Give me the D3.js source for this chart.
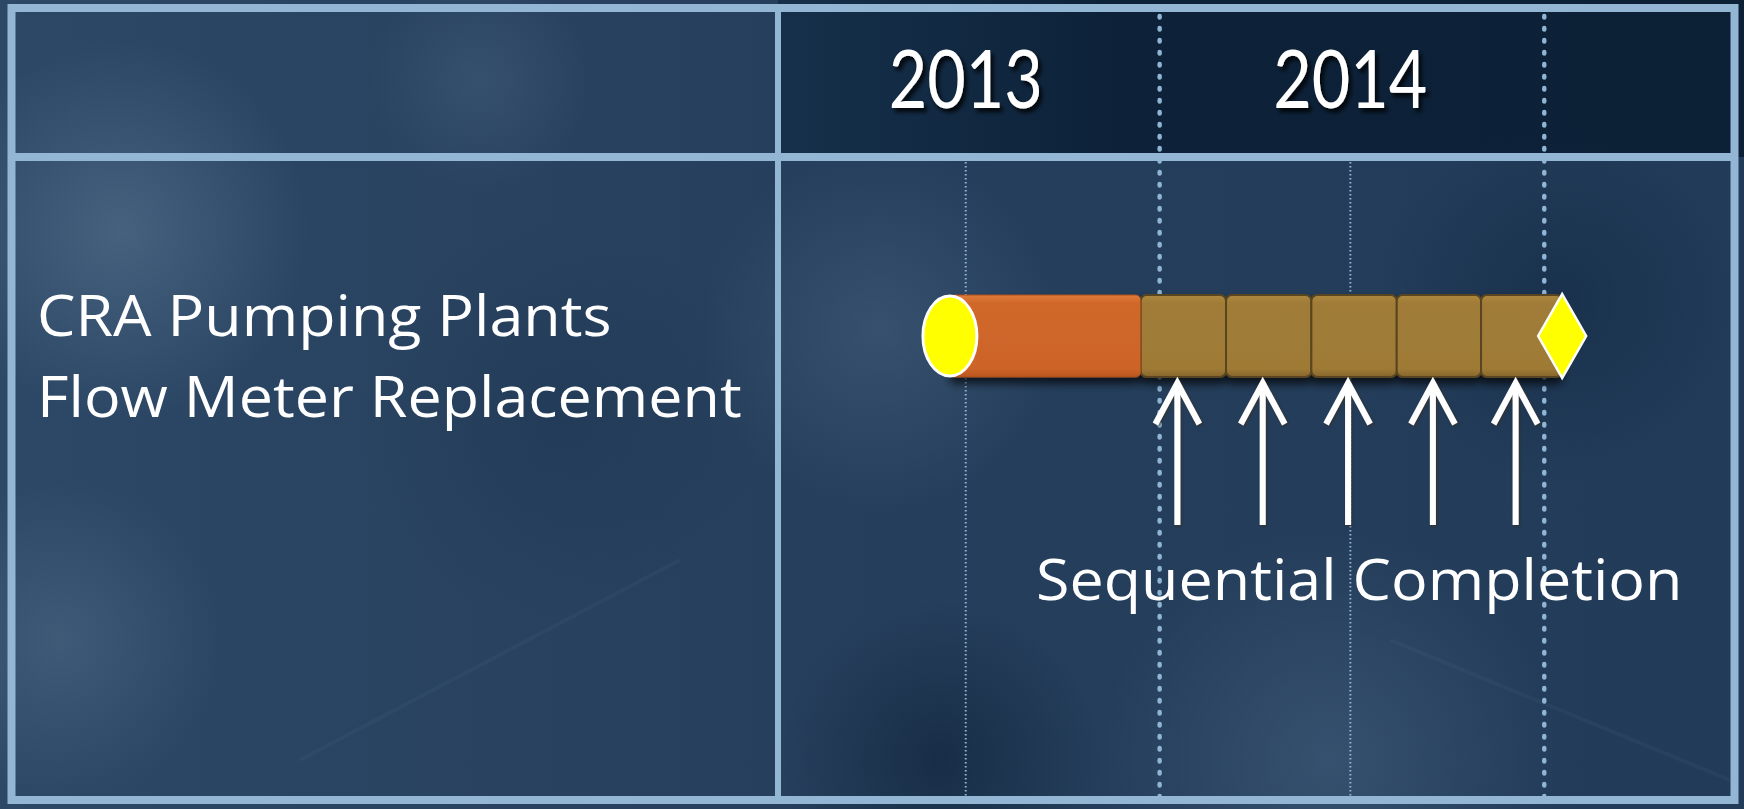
<!DOCTYPE html>
<html>
<head>
<meta charset="utf-8">
<script src="https://cdn.jsdelivr.net/npm/d3@7"></script>
<style>
  body { margin: 0; background: #1a3250; overflow: hidden; }
  text { font-family: "Open Sans", Lato, sans-serif; fill: #fff; }
  text.year { font-family: Lato, "Open Sans", sans-serif; }
</style>
</head>
<body>
<svg id="chart" width="1744" height="809"></svg>
<script>
// ---- data ----
const years = ["2013", "2014"];
const yearStarts = ["2014-01-01", "2015-01-01"];   // heavy dotted lines
const midYears = ["2013-07-01", "2014-07-01"];     // light dotted lines
const taskName = "CRA Pumping Plants Flow Meter Replacement";
const taskLines = ["CRA Pumping Plants", "Flow Meter Replacement"];
const startDate = "2013-06-16";
const designEnd = "2013-12-14";
const phaseEnds = ["2014-03-05", "2014-05-25", "2014-08-14", "2014-11-02", "2015-01-18"];
const note = "Sequential Completion";

const parse = d3.timeParse("%Y-%m-%d");
const W = 1744, H = 809;
const stretch = 1.09;   // slide text is a bit wider than Open Sans
const svg = d3.select("#chart");
const defs = svg.append("defs");

// ---- background ----
const bg = defs.append("linearGradient").attr("id", "bg").attr("x1", 0).attr("x2", 1).attr("y1", 0).attr("y2", 0);
bg.append("stop").attr("offset", 0).attr("stop-color", "#2c4866");
bg.append("stop").attr("offset", 0.45).attr("stop-color", "#263f5c");
bg.append("stop").attr("offset", 1).attr("stop-color", "#213b58");
svg.append("rect").attr("width", W).attr("height", H).attr("fill", "url(#bg)");

const hdr = defs.append("linearGradient").attr("id", "hdr").attr("x1", 0).attr("x2", 1).attr("y1", 0).attr("y2", 0);
hdr.append("stop").attr("offset", 0).attr("stop-color", "#16304b");
hdr.append("stop").attr("offset", 0.35).attr("stop-color", "#0d2239");
hdr.append("stop").attr("offset", 1).attr("stop-color", "#0c2036");
svg.append("rect").attr("x", 778).attr("y", 0).attr("width", W - 778).attr("height", 157).attr("fill", "url(#hdr)");

const blobs = [
  { id: "b1", cx: 120, cy: 230, r: 190, c: "#5b7793", o: 0.55 },
  { id: "b2", cx: 480, cy: 80, r: 110, c: "#4a6581", o: 0.4 },
  { id: "b3", cx: 60, cy: 640, r: 160, c: "#55718d", o: 0.45 },
  { id: "b4", cx: 1330, cy: 760, r: 230, c: "#4d6987", o: 0.45 },
  { id: "b5", cx: 880, cy: 330, r: 180, c: "#4a6683", o: 0.45 },
  { id: "b6", cx: 940, cy: 760, r: 160, c: "#0f233a", o: 0.6 },
  { id: "b7", cx: 1560, cy: 300, r: 180, c: "#0f2640", o: 0.5 },
  { id: "b8", cx: 560, cy: 420, r: 200, c: "#1d3652", o: 0.5 }
];
blobs.forEach(b => {
  const g = defs.append("radialGradient").attr("id", b.id);
  g.append("stop").attr("offset", 0).attr("stop-color", b.c).attr("stop-opacity", b.o);
  g.append("stop").attr("offset", 1).attr("stop-color", b.c).attr("stop-opacity", 0);
  svg.append("circle").attr("cx", b.cx).attr("cy", b.cy).attr("r", b.r).attr("fill", `url(#${b.id})`);
});

// faint streaks in the texture
svg.append("line").attr("x1", 300).attr("y1", 760).attr("x2", 680).attr("y2", 560)
  .attr("stroke", "#6f8aa6").attr("stroke-opacity", 0.08).attr("stroke-width", 4);
svg.append("line").attr("x1", 1390).attr("y1", 640).attr("x2", 1730).attr("y2", 780)
  .attr("stroke", "#6f8aa6").attr("stroke-opacity", 0.08).attr("stroke-width", 4);

// ---- filters ----
const sh = defs.append("filter").attr("id", "textShadow").attr("x", "-10%").attr("y", "-20%").attr("width", "130%").attr("height", "150%");
sh.append("feDropShadow").attr("dx", 3).attr("dy", 4).attr("stdDeviation", 2).attr("flood-color", "#000").attr("flood-opacity", 0.85);
const bs = defs.append("filter").attr("id", "barShadow").attr("x", "-10%").attr("y", "-20%").attr("width", "120%").attr("height", "160%");
bs.append("feDropShadow").attr("dx", 0).attr("dy", 6).attr("stdDeviation", 4).attr("flood-color", "#000").attr("flood-opacity", 0.7);
const as = defs.append("filter").attr("id", "arrowShadow").attr("x", "-50%").attr("y", "-10%").attr("width", "200%").attr("height", "130%");
as.append("feDropShadow").attr("dx", 1).attr("dy", 1).attr("stdDeviation", 1.2).attr("flood-color", "#3a2a1a").attr("flood-opacity", 0.8);

// ---- scales ----
const x = d3.scaleTime()
  .domain([new Date(2013, 0, 1), new Date(2015, 6, 1)])
  .range([775, 1735]);
const y = d3.scaleBand().domain([taskName]).range([160, 512]);
const cy = y(taskName) + y.bandwidth() / 2;
const barH = 82;

// ---- grid lines ----
svg.append("g").selectAll("line").data(midYears).join("line")
  .attr("x1", d => x(parse(d))).attr("x2", d => x(parse(d)))
  .attr("y1", 162).attr("y2", 798)
  .attr("stroke", "#8fb4d4").attr("stroke-width", 2)
  .attr("stroke-dasharray", "1.6 2.4");
svg.append("g").selectAll("line").data(yearStarts).join("line")
  .attr("x1", d => x(parse(d))).attr("x2", d => x(parse(d)))
  .attr("y1", 16).attr("y2", 800)
  .attr("stroke", "#8fb4d4").attr("stroke-width", 4.5)
  .attr("stroke-linecap", "round")
  .attr("stroke-dasharray", "1.5 10.5");

// ---- frame ----
const frame = svg.append("g").attr("stroke", "#93b6d4").attr("fill", "none");
frame.append("rect").attr("x", 11.5).attr("y", 8).attr("width", 1723).attr("height", 792).attr("stroke-width", 8);
frame.append("line").attr("x1", 11).attr("x2", 1735).attr("y1", 157).attr("y2", 157).attr("stroke-width", 8);
frame.append("line").attr("x1", 778).attr("x2", 778).attr("y1", 8).attr("y2", 800).attr("stroke-width", 6);

// ---- header years ----
const yearMid = years.map(yr => new Date(+yr, 6, 1));
svg.append("g").selectAll("text").data(years).join("text")
  .attr("class", "year")
  .attr("x", (d, i) => x(yearMid[i]))
  .attr("y", 108)
  .attr("text-anchor", "middle")
  .attr("font-size", 82)
  .attr("textLength", 154)
  .attr("lengthAdjust", "spacingAndGlyphs")
  .attr("filter", "url(#textShadow)")
  .text(d => d);

// ---- task label ----
svg.append("g")
  .attr("transform", `translate(37,0) scale(${stretch},1)`)
  .selectAll("text").data(taskLines).join("text")
  .attr("x", 0)
  .attr("y", (d, i) => cy + i * 81)
  .attr("font-size", 56)
  .text(d => d);

// ---- bar ----
const bar = svg.append("g").attr("filter", "url(#barShadow)");
const og = defs.append("linearGradient").attr("id", "orange").attr("x1", 0).attr("x2", 0).attr("y1", 0).attr("y2", 1);
og.append("stop").attr("offset", 0).attr("stop-color", "#e07c3a");
og.append("stop").attr("offset", 0.1).attr("stop-color", "#d0672a");
og.append("stop").attr("offset", 0.9).attr("stop-color", "#cd6428");
og.append("stop").attr("offset", 1).attr("stop-color", "#b8561f");
const bgd = defs.append("linearGradient").attr("id", "brown").attr("x1", 0).attr("x2", 0).attr("y1", 0).attr("y2", 1);
bgd.append("stop").attr("offset", 0).attr("stop-color", "#ad883f");
bgd.append("stop").attr("offset", 0.1).attr("stop-color", "#a07c38");
bgd.append("stop").attr("offset", 0.9).attr("stop-color", "#9e7a36");
bgd.append("stop").attr("offset", 1).attr("stop-color", "#87662b");

const segStarts = [designEnd].concat(phaseEnds.slice(0, -1));
const segs = phaseEnds.map((e, i) => ({ s: parse(segStarts[i]), e: parse(e) }));

bar.selectAll("rect.seg").data(segs).join("rect")
  .attr("class", "seg")
  .attr("x", d => x(d.s))
  .attr("y", cy - barH / 2)
  .attr("width", d => x(d.e) - x(d.s))
  .attr("height", barH)
  .attr("rx", 6)
  .attr("fill", "url(#brown)")
  .attr("stroke", "#5a4520")
  .attr("stroke-width", 2);

bar.append("rect")
  .attr("x", x(parse(startDate)))
  .attr("y", cy - barH / 2)
  .attr("width", x(parse(designEnd)) - x(parse(startDate)))
  .attr("height", barH)
  .attr("rx", 5)
  .attr("fill", "url(#orange)")
  .attr("stroke", "#a54f1e")
  .attr("stroke-width", 1);

// start ellipse and finish diamond
svg.append("ellipse")
  .attr("cx", x(parse(startDate)))
  .attr("cy", cy)
  .attr("rx", 27).attr("ry", 40)
  .attr("fill", "#ffff00").attr("stroke", "#fff").attr("stroke-width", 3);

const fx = x(parse(phaseEnds[phaseEnds.length - 1]));
svg.append("path")
  .attr("d", d3.line()([[fx, cy - 42], [fx + 24, cy], [fx, cy + 42], [fx - 24, cy]]) + "Z")
  .attr("fill", "#ffff00").attr("stroke", "#fff").attr("stroke-width", 2.5);

// ---- arrows ----
const tipY = cy + barH / 2 + 6, tailY = 525, headH = 41, headW = 22;
const arrows = svg.append("g").attr("filter", "url(#arrowShadow)")
  .attr("stroke", "#fff").attr("fill", "none").attr("stroke-width", 6);
segs.forEach(d => {
  const ax = (x(d.s) + x(d.e)) / 2 - 6;
  arrows.append("line").attr("x1", ax).attr("x2", ax).attr("y1", tipY + 3).attr("y2", tailY);
  arrows.append("path")
    .attr("stroke-linejoin", "miter")
    .attr("d", d3.line()([[ax - headW, tipY + headH], [ax, tipY], [ax + headW, tipY + headH]]));
});

svg.append("g")
  .attr("transform", `translate(1036,600) scale(${stretch},1)`)
  .append("text")
  .attr("font-size", 56)
  .text(note);
</script>
</body>
</html>
